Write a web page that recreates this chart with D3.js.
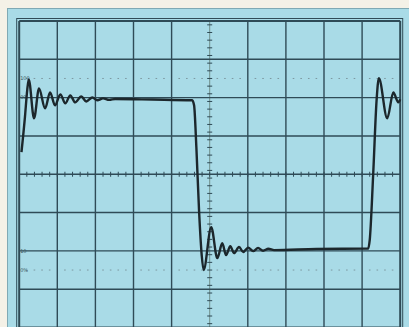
<!DOCTYPE html>
<html>
<head>
<meta charset="utf-8">
<script src="https://cdn.jsdelivr.net/npm/d3@7"></script>
<style>
  html, body { margin: 0; padding: 0; background: #f4f1e7; }
  svg { display: block; }
</style>
</head>
<body>
<svg id="scope" width="409" height="327"></svg>
<script>
// graticule: 10 horizontal divisions, vertical axis in percent of step amplitude
var xDivs = [0, 1, 2, 3, 4, 5, 6, 7, 8, 9, 10];
var yGrid = [-30, -10, 10, 30, 50, 70, 90, 110, 130];
var levelValues = [100, 90, 10, 0];
var levelLabels = ["100", "90", "10", "0%"];
var dottedLevels = [100, 0];

// trace: time in divisions, level in percent
var traceX = [0.06, 0.15, 0.21, 0.25, 0.39, 0.52, 0.68, 0.81, 0.94, 1.08, 1.21, 1.34, 1.47, 1.63, 1.76, 1.92, 2.05, 2.20, 2.36, 2.52, 3.50,
              4.54, 4.59, 4.65, 4.72, 4.79, 4.84, 5.04, 5.20, 5.33, 5.43, 5.54, 5.64, 5.77, 5.88, 6.01, 6.14, 6.27, 6.40, 6.54, 6.69, 7.80,
              9.16, 9.20, 9.29, 9.38, 9.44, 9.66, 9.82, 9.95, 10.0];
var traceY = [61.5, 79.7, 93.8, 99.5, 79.2, 94.8, 84.4, 92.7, 86.0, 91.7, 87.0, 91.2, 87.5, 90.6, 88.0, 90.1, 88.6, 89.6, 88.8, 89.3, 89.0,
              88.6, 86.0, 64.1, 31.2, 7.8, 0.0, 22.4, 6.2, 14.0, 7.8, 12.5, 8.8, 12.0, 9.4, 11.7, 9.9, 11.5, 10.1, 11.1, 10.4, 11.0,
              11.2, 15.6, 49.5, 88.6, 100.1, 79.2, 92.7, 87.5, 89.1];

var svg = d3.select("#scope"),
    width = +svg.attr("width"),
    height = +svg.attr("height");

var x = d3.scaleLinear().domain([0, 10]).range([19.2, 400.2]);
var y = d3.scaleLinear().domain([-30, 130]).range([327.5, 21]);

var gridColor = "#2f4b57";

// screen
svg.append("rect")
    .attr("x", 7.5).attr("y", 8.5)
    .attr("width", width - 7).attr("height", height)
    .attr("fill", "#a9dbe7")
    .attr("stroke", "#7fa9b4")
    .attr("stroke-width", 1);

// outer frame line
svg.append("rect")
    .attr("x", x(0) - 2.5).attr("y", y(130) - 2.5)
    .attr("width", x(10) - x(0) + 5).attr("height", y(-30) - y(130) + 5)
    .attr("fill", "none")
    .attr("stroke", gridColor)
    .attr("stroke-width", 1);

var g = svg.append("g");

// vertical grid lines (center one is fainter)
g.selectAll(".vgrid")
    .data(xDivs)
    .enter().append("line")
    .attr("class", "vgrid")
    .attr("x1", function (d) { return x(d); })
    .attr("x2", function (d) { return x(d); })
    .attr("y1", y(130))
    .attr("y2", y(-30))
    .attr("stroke", function (d) { return d === 5 ? "#6f8f8a" : gridColor; })
    .attr("stroke-width", function (d) { return (d === 0 || d === 10) ? 2 : (d === 5 ? 1 : 1.4); });

// horizontal grid lines
g.selectAll(".hgrid")
    .data(yGrid)
    .enter().append("line")
    .attr("class", "hgrid")
    .attr("x1", x(0))
    .attr("x2", x(10))
    .attr("y1", function (d) { return y(d); })
    .attr("y2", function (d) { return y(d); })
    .attr("stroke", gridColor)
    .attr("stroke-width", function (d) { return (d === -30 || d === 130) ? 2 : 1.4; });

// minor ticks on the center axes, 5 per division
var xMinor = d3.range(1, 50).map(function (i) { return i / 5; });
var yMinor = d3.range(-29, 130, 4);

g.selectAll(".xminor")
    .data(xMinor)
    .enter().append("line")
    .attr("class", "xminor")
    .attr("x1", function (d) { return x(d); })
    .attr("x2", function (d) { return x(d); })
    .attr("y1", y(50) - 2.5)
    .attr("y2", y(50) + 2.5)
    .attr("stroke", gridColor)
    .attr("stroke-width", 1);

g.selectAll(".yminor")
    .data(yMinor.map(function (d) { return d + 1; }))
    .enter().append("line")
    .attr("class", "yminor")
    .attr("x1", x(5) - 2.5)
    .attr("x2", x(5) + 2.5)
    .attr("y1", function (d) { return y(d); })
    .attr("y2", function (d) { return y(d); })
    .attr("stroke", gridColor)
    .attr("stroke-width", 1);

// dotted 0% and 100% lines
dottedLevels.forEach(function (lvl) {
    g.selectAll(".dot" + lvl)
        .data(xMinor.filter(function (d) { return Math.abs(d - Math.round(d)) > 0.01; }))
        .enter().append("line")
        .attr("class", "dot" + lvl)
        .attr("x1", function (d) { return x(d) - 0.8; })
        .attr("x2", function (d) { return x(d) + 0.8; })
        .attr("y1", y(lvl))
        .attr("y2", y(lvl))
        .attr("stroke", "#7d98a0")
        .attr("stroke-width", 1);
});

// level labels
g.selectAll(".lvl")
    .data(levelValues)
    .enter().append("text")
    .attr("class", "lvl")
    .attr("x", x(0) + 1)
    .attr("y", function (d) { return y(d) + 1.8; })
    .attr("font-family", "DejaVu Sans, sans-serif")
    .attr("font-size", "5px")
    .attr("fill", "#3a5560")
    .text(function (d, i) { return levelLabels[i]; });

// trace
var line = d3.line()
    .x(function (d) { return x(d[0]); })
    .y(function (d) { return y(d[1]); })
    .curve(d3.curveMonotoneX);

svg.append("path")
    .datum(d3.zip(traceX, traceY))
    .attr("d", line)
    .attr("fill", "none")
    .attr("stroke", "#1c272c")
    .attr("stroke-width", 2.4)
    .attr("stroke-linejoin", "round");
</script>
</body>
</html>
